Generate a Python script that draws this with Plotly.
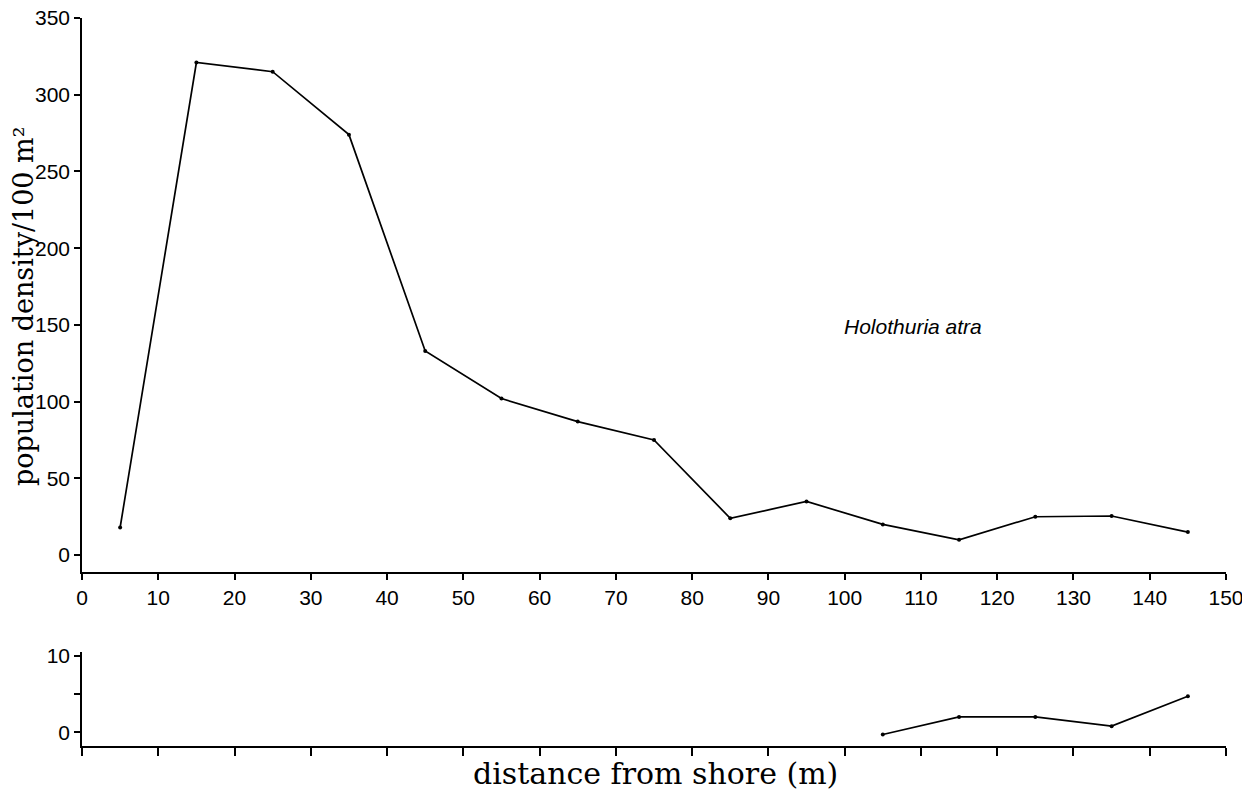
import plotly.graph_objects as go

distance = [5, 15, 25, 35, 45, 55, 65, 75, 85, 95, 105, 115, 125, 135, 145]
holothuria = [18, 321, 315, 274, 133, 102, 87, 75, 24, 35, 20, 10, 25, 25.5, 15]
actino_distance = [105, 115, 125, 135, 145]
actinopyga = [-0.3, 2, 2, 0.8, 4.7]
x_ticks = list(range(0, 151, 10))
y_ticks_top = list(range(0, 351, 50))
y_ticks_bottom = [0, 5, 10]
y_ticktext_bottom = ["0", "", "10"]

# page offset caused by the default 8px body margin
OFF = 8
W, H = 1250, 792
L = 82 - OFF
T = 18 - OFF
R = W - (1226 - OFF)
B = H - (746 - OFF)
ph = H - T - B
pw = W - L - R


def yfrac(pix):
    return (H - B - (pix - OFF)) / ph


def xfrac(pix):
    return ((pix - OFF) - L) / pw


fig = go.Figure()
line_style = dict(color="black", width=1.7)
marker_style = dict(color="black", size=4)

fig.add_trace(go.Scatter(x=distance, y=holothuria, mode="lines+markers",
                         line=line_style, marker=marker_style, xaxis="x", yaxis="y",
                         showlegend=False, name="Holothuria atra"))
fig.add_trace(go.Scatter(x=actino_distance, y=actinopyga, mode="lines+markers",
                         line=line_style, marker=marker_style, xaxis="x2", yaxis="y2",
                         showlegend=False, name="Actinopyga sp."))

tick_font = dict(family="Liberation Sans, Arial", size=21, color="black")
axis_common = dict(showgrid=False, zeroline=False, showline=True, linecolor="black",
                   linewidth=1.6, ticks="outside", tickcolor="black", tickwidth=1.5,
                   tickfont=tick_font, automargin=False, ticklabeloverflow="allow")

fig.update_layout(
    width=W, height=H,
    margin=dict(l=L, r=R, t=T, b=B),
    paper_bgcolor="white", plot_bgcolor="white",
    xaxis=dict(domain=[0, 1], range=[0, 150], tickvals=x_ticks, ticklen=6,
               anchor="y", **axis_common),
    yaxis=dict(domain=[yfrac(572), 1.0], range=[-11, 350], tickvals=y_ticks_top, ticklen=6,
               anchor="x", **axis_common),
    xaxis2=dict(domain=[0, 1], range=[0, 150], tickvals=x_ticks, ticklen=8,
                showticklabels=False, anchor="y2", **axis_common),
    yaxis2=dict(domain=[0, yfrac(652)], range=[-1.8, 10.5], tickvals=y_ticks_bottom,
                ticktext=y_ticktext_bottom, ticklen=6, anchor="x2", **axis_common),
)

serif = "DejaVu Serif, Liberation Serif, serif"
label_font = dict(family="Liberation Sans, Arial", size=21, color="black")
fig.add_annotation(text="<i>Holothuria atra</i>", x=99.7, y=149, xref="x", yref="y",
                   xanchor="left", yanchor="middle", showarrow=False, font=label_font)
fig.add_annotation(text="<i>Actinopyga sp.</i>", x=100.4, y=11.4, xref="x2", yref="y2",
                   xanchor="left", yanchor="middle", showarrow=False, font=label_font)
fig.add_annotation(text="distance from shore (m)", x=xfrac(655), y=yfrac(773),
                   xref="paper", yref="paper",
                   xanchor="center", yanchor="middle", showarrow=False,
                   font=dict(family=serif, size=30, color="black"))
fig.add_annotation(text="population density/100 m²", x=xfrac(23), y=yfrac(306),
                   xref="paper", yref="paper",
                   xanchor="center", yanchor="middle", showarrow=False, textangle=-90,
                   font=dict(family=serif, size=27, color="black"))

fig.write_html("out.html")
